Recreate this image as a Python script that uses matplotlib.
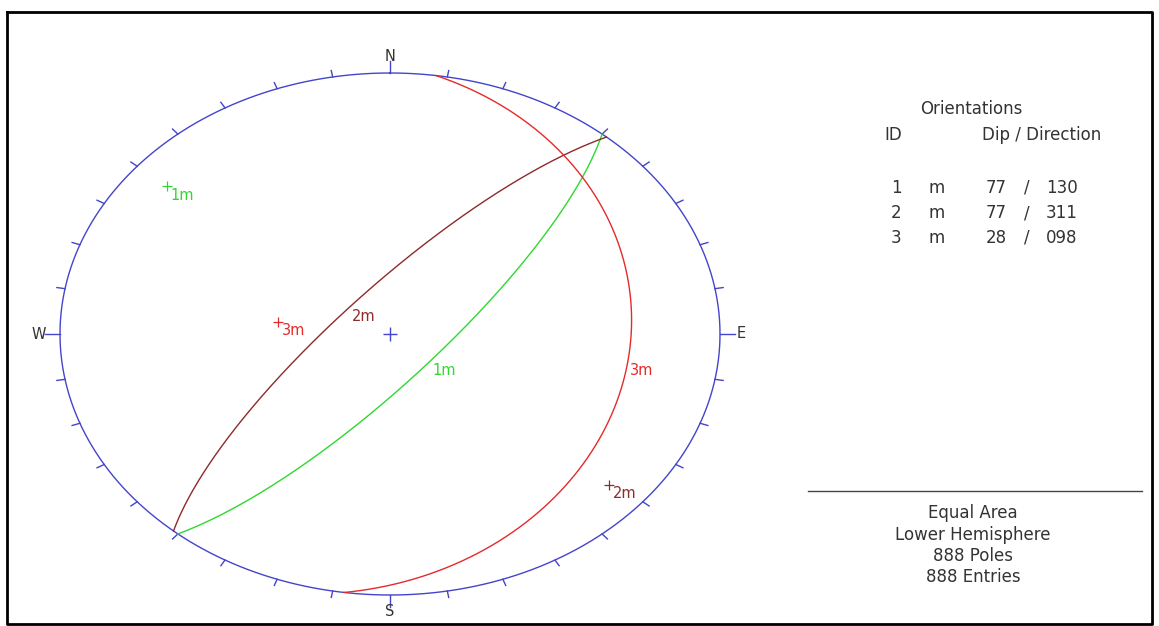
import numpy as np
import matplotlib
matplotlib.use("Agg")
import matplotlib.pyplot as plt

# ---- data ----
plane_ids = ["1", "2", "3"]
plane_sets = ["m", "m", "m"]
dips = [77, 77, 28]
dip_dirs = [130, 311, 98]
plane_colors = ["#2fd82f", "#8e2a2a", "#e52a2a"]
compass_labels = ["N", "E", "S", "W"]
summary_lines = ["Equal Area", "Lower Hemisphere", "888 Poles", "888 Entries"]

W, H = 1159, 626
fig = plt.figure(figsize=(W / 100, H / 100), dpi=100)
fig.patch.set_facecolor("white")

# overlay axes in pixel coordinates for the side panel and the frame
ov = fig.add_axes([0, 0, 1, 1])
ov.set_xlim(0, W)
ov.set_ylim(H, 0)
ov.axis("off")

# stereonet axes: unit circle -> ellipse centred (390,334), rx 330, ry 261 px
cx, cy, rx, ry = 390, 334, 330, 261
ax = fig.add_axes([(cx - rx) / W, (H - cy - ry) / H, 2 * rx / W, 2 * ry / H])
ax.set_xlim(-1, 1)
ax.set_ylim(-1, 1)
ax.axis("off")
ax.patch.set_alpha(0)

blue = "#4444cc"
t = np.linspace(0, 2 * np.pi, 721)
ax.plot(np.sin(t), np.cos(t), color=blue, lw=1.0, clip_on=False)

# ticks every 10 degrees, outward
for az in range(0, 360, 10):
    a = np.radians(az)
    L = 1.045 if az % 90 == 0 else 1.025
    ax.plot([np.sin(a), L * np.sin(a)], [np.cos(a), L * np.cos(a)],
            color=blue, lw=1.0, clip_on=False)

for lab, az in zip(compass_labels, [0, 90, 180, 270]):
    a = np.radians(az)
    ax.text(1.063 * np.sin(a), 1.063 * np.cos(a), lab, ha="center", va="center",
            fontsize=10.5, color="#333333", family="DejaVu Sans", clip_on=False)

# centre cross
ax.plot([0], [0], marker="+", ms=10, mew=1.0, color=blue, clip_on=False)


def equal_area(trend, plunge):
    r = np.sqrt(2) * np.sin(np.radians(90 - plunge) / 2)
    tr = np.radians(trend)
    return r * np.sin(tr), r * np.cos(tr)


for pid, pset, d, dd, col in zip(plane_ids, plane_sets, dips, dip_dirs, plane_colors):
    s = np.radians(dd - 90)
    dr, ddr = np.radians(d), np.radians(dd)
    strike = np.array([np.sin(s), np.cos(s), 0.0])
    dipv = np.array([np.sin(ddr) * np.cos(dr), np.cos(ddr) * np.cos(dr), -np.sin(dr)])
    tt = np.linspace(0, np.pi, 400)
    v = np.outer(np.cos(tt), strike) + np.outer(np.sin(tt), dipv)
    plunge = np.degrees(np.arcsin(np.clip(-v[:, 2], -1, 1)))
    trend = np.degrees(np.arctan2(v[:, 0], v[:, 1]))
    x, y = equal_area(trend, plunge)
    ax.plot(x, y, color=col, lw=1.0, clip_on=False)

    # label at dip vector
    xd, yd = equal_area(dd, d)
    ax.annotate(pid + pset, (xd, yd), xytext=(14, -10), textcoords="offset pixels",
                ha="center", va="center", fontsize=10.5, color=col,
                family="DejaVu Sans")

    # pole
    xp, yp = equal_area((dd + 180) % 360, 90 - d)
    ax.plot([xp], [yp], marker="+", ms=7, mew=0.9, color=col, clip_on=False)
    ax.annotate(pid + pset, (xp, yp), xytext=(15, -9), textcoords="offset pixels",
                ha="center", va="center", fontsize=10.5, color=col,
                family="DejaVu Sans")

# ---- side panel ----
txtc = "#333333"
fp = dict(fontsize=12, color=txtc, family="DejaVu Sans")
ov.text(971, 109, "Orientations", ha="center", va="center", **fp)
ov.text(893, 135, "ID", ha="center", va="center", **fp)
ov.text(1042, 135, "Dip / Direction", ha="center", va="center", **fp)
row_y = [188, 213, 238]
for pid, pset, d, dd, yy in zip(plane_ids, plane_sets, dips, dip_dirs, row_y):
    ov.text(896, yy, pid, ha="center", va="center", **fp)
    ov.text(937, yy, pset, ha="center", va="center", **fp)
    ov.text(1007, yy, f"{d}", ha="right", va="center", **fp)
    ov.text(1027, yy, "/", ha="center", va="center", **fp)
    ov.text(1046, yy, f"{dd:03d}", ha="left", va="center", **fp)

ov.plot([808, 1142], [491, 491], color="#444444", lw=1.0)
for i, line in enumerate(summary_lines):
    ov.text(973, 513 + i * 21.5, line, ha="center", va="center", **fp)

# frame
ov.plot([7, 1152, 1152, 7, 7], [12, 12, 624, 624, 12], color="black", lw=2.0,
        clip_on=False)

fig.savefig("out.png", dpi=100, facecolor="white")
